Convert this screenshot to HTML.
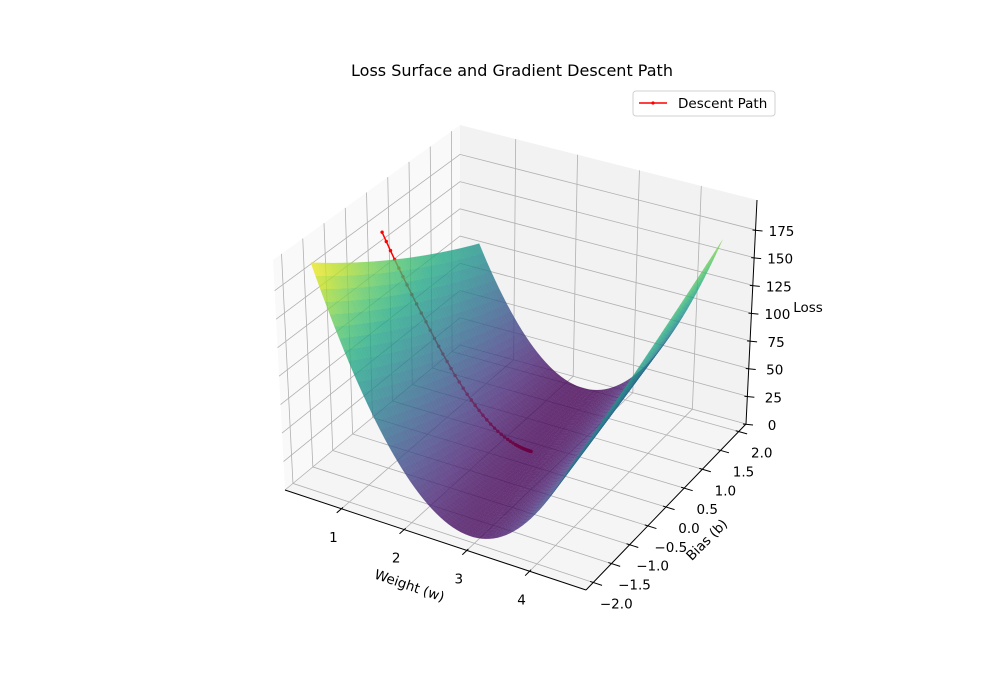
<!DOCTYPE html>
<html><head><meta charset="utf-8"><title>Loss Surface</title>
<style>
html,body{margin:0;padding:0;background:#fff;}
svg{display:block;font-family:"DejaVu Sans","Liberation Sans",sans-serif;}
</style></head>
<body>
<svg id="chart" width="1000" height="700" viewBox="0 0 1000 700" xmlns="http://www.w3.org/2000/svg">
  <text x="512" y="76" text-anchor="middle" font-size="16" fill="#000">Loss Surface and Gradient Descent Path</text>
  <g id="panes"></g>
  <g id="grid"></g>
  <g id="axes"></g>
  <g id="path"></g>
  <g id="surface"></g>
  <text x="0" y="0" font-size="13.5" text-anchor="middle" transform="translate(408,590) rotate(19)">Weight (w)</text>
  <text x="0" y="0" font-size="13.5" text-anchor="middle" transform="translate(710,543) rotate(-45)">Bias (b)</text>
  <text x="808" y="312" font-size="13.5" text-anchor="middle">Loss</text>
  <g>
    <rect x="633" y="91" width="142" height="25" rx="3" fill="#fff" stroke="#d0d0d0" stroke-width="1"/>
    <line x1="639" y1="103" x2="667" y2="103" stroke="#ff0000" stroke-width="1.5"/>
    <circle cx="653" cy="103" r="1.6" fill="#ff0000"/>
    <text x="678" y="108" font-size="13.5">Descent Path</text>
  </g>
</svg>
<script>
// ---- data ----
const xTicks = [1, 2, 3, 4];
const yTicks = [-2.0, -1.5, -1.0, -0.5, 0.0, 0.5, 1.0, 1.5, 2.0];
const yTickLabels = ["\u22122.0","\u22121.5","\u22121.0","\u22120.5","0.0","0.5","1.0","1.5","2.0"];
const zTicks = [0, 25, 50, 75, 100, 125, 150, 175];
const wRange = [0.55, 4.5];
const bRange = [-2.0, 2.0];
const lossCoefW = [34.5];     // curvature in w
const lossCoefCross = [5.52]; // cross term
const lossCoefB = [1.167];    // curvature in b
const lossCenter = [2.268, 2.2];
const pathW = [0.40,0.45,0.50,0.55,0.60,0.65,0.70,0.76,0.82,0.88,0.94,1.00,1.06,1.12,1.18,1.24,1.30,1.36,1.42,1.48,1.54,1.60,1.66,1.72,1.78,1.84,1.90,1.96,2.01,2.06,2.11,2.16,2.20,2.24,2.28,2.31,2.34,2.37,2.39,2.41,2.43,2.45,2.46,2.47,2.48,2.49,2.50,2.505,2.51,2.515,2.52];
const pathB = [-0.10,-0.08,-0.06,-0.04,-0.02,0.00,0.02,0.04,0.06,0.08,0.10,0.11,0.12,0.13,0.14,0.15,0.155,0.16,0.17,0.175,0.18,0.19,0.195,0.20,0.205,0.21,0.215,0.22,0.225,0.23,0.235,0.24,0.245,0.25,0.253,0.256,0.26,0.263,0.266,0.268,0.27,0.272,0.274,0.275,0.276,0.277,0.278,0.279,0.28,0.28,0.28];

// ---- projection (trilinear over box corners) ----
const XL=[0.1,4.9], YL=[-2.2,2.2], ZL=[0,202];
const B00=[285,490],B10=[586,590],B01=[460,345],B11=[746,424];
const T00=[273,260],T10=[585,354],T01=[460,125],T11=[757,200];
function bil(a,b,c,d,u,v){return [(1-u)*(1-v)*a[0]+u*(1-v)*b[0]+(1-u)*v*c[0]+u*v*d[0],(1-u)*(1-v)*a[1]+u*(1-v)*b[1]+(1-u)*v*c[1]+u*v*d[1]];}
function norm3(x,y,z){return [(x-XL[0])/(XL[1]-XL[0]),(y-YL[0])/(YL[1]-YL[0]),(z-ZL[0])/(ZL[1]-ZL[0])];}
function P(x,y,z){const [u,v,t]=norm3(x,y,z);const b=bil(B00,B10,B01,B11,u,v),tp=bil(T00,T10,T01,T11,u,v);return [b[0]+t*(tp[0]-b[0]),b[1]+t*(tp[1]-b[1])];}
function depth(x,y,z){const [u,v,t]=norm3(x,y,z);return u*4*0.433 - v*4*0.75 + t*3*0.5;}
function loss(w,b){const dw=w-lossCenter[0],db=b-lossCenter[1];return lossCoefW[0]*dw*dw+2*lossCoefCross[0]*dw*db+lossCoefB[0]*db*db;}

const NS="http://www.w3.org/2000/svg";
function mk(tag,attrs,parent){const e=document.createElementNS(NS,tag);for(const k in attrs)e.setAttribute(k,attrs[k]);parent.appendChild(e);return e;}
function pts(a){return a.map(p=>p[0].toFixed(2)+","+p[1].toFixed(2)).join(" ");}

// panes
const panes=document.getElementById('panes');
let e;
e=mk('polygon',{points:pts([P(XL[0],YL[0],ZL[0]),P(XL[0],YL[1],ZL[0]),P(XL[0],YL[1],ZL[1]),P(XL[0],YL[0],ZL[1])]),fill:'#f9f9f9'},panes);


e=mk('polygon',{points:pts([P(XL[0],YL[1],ZL[0]),P(XL[1],YL[1],ZL[0]),P(XL[1],YL[1],ZL[1]),P(XL[0],YL[1],ZL[1])]),fill:'#f2f2f2'},panes);


e=mk('polygon',{points:pts([P(XL[0],YL[0],ZL[0]),P(XL[1],YL[0],ZL[0]),P(XL[1],YL[1],ZL[0]),P(XL[0],YL[1],ZL[0])]),fill:'#f5f5f5'},panes);



// grid
const grid=document.getElementById('grid');
function gl(a,b,c){const l=mk('polyline',{points:pts([a,b,c].filter(Boolean)),fill:'none',stroke:'#b0b0b0','stroke-width':0.8},grid);return l;}
xTicks.forEach(x=>{const l=gl(P(x,YL[0],ZL[0]),P(x,YL[1],ZL[0]),P(x,YL[1],ZL[1]));

});
yTicks.forEach(y=>{const l=gl(P(XL[1],y,ZL[0]),P(XL[0],y,ZL[0]),P(XL[0],y,ZL[1]));

});
zTicks.forEach(z=>{const l=gl(P(XL[0],YL[0],z),P(XL[0],YL[1],z),P(XL[1],YL[1],z));

});

// axes
const axes=document.getElementById('axes');
function al(a,b,name){const l=mk('line',{x1:a[0],y1:a[1],x2:b[0],y2:b[1],stroke:'#000','stroke-width':1},axes);

}
al(P(XL[0],YL[0],ZL[0]),P(XL[1],YL[0],ZL[0]),'x-axis-line');
al(P(XL[1],YL[0],ZL[0]),P(XL[1],YL[1],ZL[0]),'y-axis-line');
al(P(XL[1],YL[1],ZL[0]),P(XL[1],YL[1],ZL[1]),'z-axis-line');
function txt(s,x,y,anchor,name){const t=mk('text',{x:x,y:y,'font-size':13.5,'text-anchor':anchor,fill:'#000'},axes);t.textContent=s;

}
xTicks.forEach(x=>{const a=P(x,YL[0]+0.04,ZL[0]),b=P(x,YL[0]-0.12,ZL[0]);al(a,b,'x-tick');
const p=P(x,YL[0],ZL[0]);txt(String(x),p[0]-8,p[1]+33,'middle','x-tick-label');});
yTicks.forEach((y,i)=>{const a=P(XL[1]-0.05,y,ZL[0]),b=P(XL[1]+0.14,y,ZL[0]);al(a,b,'y-tick');
const p=P(XL[1],y,ZL[0]);txt(yTickLabels[i],p[0]+23,p[1]+26,'middle','y-tick-label');});
zTicks.forEach(z=>{const p=P(XL[1],YL[1],z);al([p[0]-3,p[1]],[p[0]+7,p[1]+1],'z-tick');
txt(String(z),p[0]+26,p[1]+6,'middle','z-tick-label');});

// descent path
const pg=document.getElementById('path');
const pp=pathW.map((w,i)=>P(w,pathB[i],loss(w,pathB[i])));
e=mk('polyline',{points:pts(pp),fill:'none',stroke:'#ff0000','stroke-width':1.5,'stroke-linejoin':'round'},pg);


pp.forEach(p=>{const c=mk('circle',{cx:p[0].toFixed(2),cy:p[1].toFixed(2),r:1.7,fill:'#ff0000'},pg);

});

// surface
const vir=[[68,1,84],[72,36,117],[65,68,135],[53,95,141],[42,120,142],[33,145,140],[34,168,132],[68,191,112],[122,209,81],[189,223,38],[253,231,37]];
function cmap(t){t=Math.max(0,Math.min(1,t))*10;const i=Math.min(9,Math.floor(t)),f=t-i;const a=vir[i],b=vir[i+1];return 'rgb('+[0,1,2].map(k=>Math.round(a[k]+(b[k]-a[k])*f)).join(',')+')';}
const N=60, faces=[];
let zmin=1e9,zmax=-1e9;
for(let i=0;i<=N;i++)for(let j=0;j<=N;j++){const w=wRange[0]+(wRange[1]-wRange[0])*i/N,b=bRange[0]+(bRange[1]-bRange[0])*j/N;const z=loss(w,b);zmin=Math.min(zmin,z);zmax=Math.max(zmax,z);}
for(let i=0;i<N;i++)for(let j=0;j<N;j++){
  const w0=wRange[0]+(wRange[1]-wRange[0])*i/N,w1=wRange[0]+(wRange[1]-wRange[0])*(i+1)/N;
  const b0=bRange[0]+(bRange[1]-bRange[0])*j/N,b1=bRange[0]+(bRange[1]-bRange[0])*(j+1)/N;
  const c=[[w0,b0],[w1,b0],[w1,b1],[w0,b1]].map(q=>[q[0],q[1],loss(q[0],q[1])]);
  const zm=(c[0][2]+c[1][2]+c[2][2]+c[3][2])/4;
  faces.push({c,zm,d:depth((w0+w1)/2,(b0+b1)/2,zm)});
}
faces.sort((a,b)=>a.d-b.d);
const sg=document.getElementById('surface');
faces.forEach(f=>{const col=cmap((f.zm-zmin)/(zmax-zmin));
const q=mk('polygon',{points:pts(f.c.map(p=>P(p[0],p[1],p[2]))),fill:col,'fill-opacity':0.8,stroke:col,'stroke-opacity':0.25,'stroke-width':0.3},sg);

});
</script>
</body></html>
